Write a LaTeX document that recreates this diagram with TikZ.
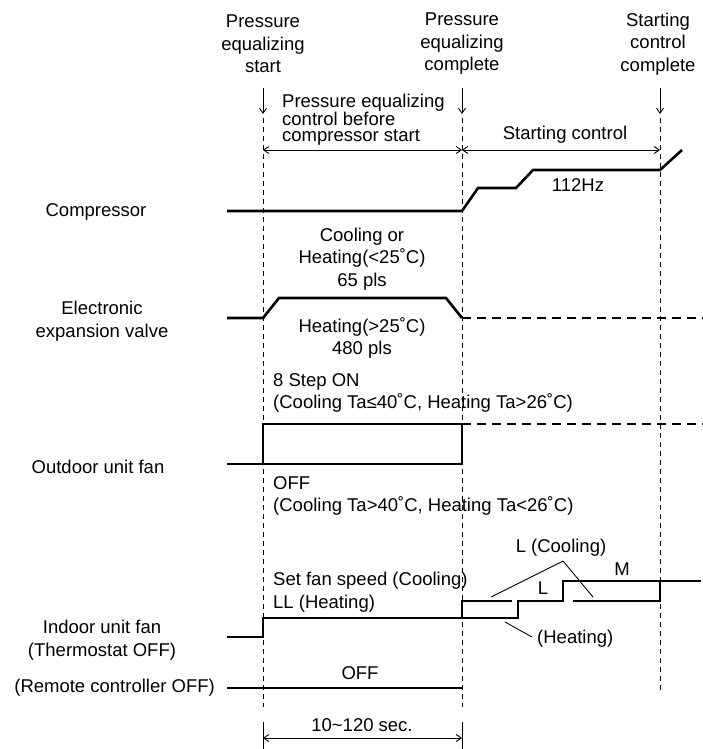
\documentclass[tikz,border=0pt]{standalone}
\usepackage{fontspec}
\setmainfont{Liberation Sans}
\usetikzlibrary{arrows.meta,positioning}

\begin{document}
\begin{tikzpicture}[x=1pt,y=-1pt,>={Straight Barb[length=5pt,width=7pt]},
	font=\fontsize{18.5}{22.5}\selectfont]
	
	% Define line and text styles
	\tikzstyle{signal} = [line width=2.6pt, line join=miter]
	\tikzstyle{later} = [line width=2.6pt, dash pattern=on 9pt off 6pt]
	\tikzstyle{guide} = [line width=1pt, dash pattern=on 5pt off 4pt]
	\tikzstyle{dim} = [line width=0.9pt, <->]
	\tikzstyle{leader} = [line width=0.9pt]
	\tikzstyle{label} = [inner sep=0pt, align=center]
	\tikzstyle{note} = [inner sep=0pt, align=left, anchor=west]
	
	\useasboundingbox (0,0) rectangle (703,749);
	
	% Event labels on top
	\node[label] (eqstart) at (263,44) {Pressure\\equalizing\\start};
	\node[label] (eqdone) at (462,44) {Pressure\\equalizing\\complete};
	\node[label] (ctrldone) at (658,44) {Starting\\control\\complete};
	
	% Time marks: arrow, dashed guide
	\foreach \t/\x/\yend in {ts/263/707, te/462/707, tc/660/693} {
		\coordinate (\t top) at (\x,88);
		\coordinate (\t) at (\x,118);
		\coordinate (\t end) at (\x,\yend);
		\draw[->, line width=0.9pt] (\t top) -- ([yshift=4pt]\t);
		\draw[guide] (\t) -- (\t end);
	}
	
	% Control periods
	\coordinate (p1) at (263,150);
	\coordinate (p2) at (462,150);
	\coordinate (p3) at (660,150);
	\draw[dim] (p1) -- (p2);
	\draw[dim] (p2) -- (p3);
	\node[note, font=\fontsize{18.5}{16}\selectfont] (eqctrl) at (282,120)
		{Pressure equalizing\\control before\\compressor start};
	\node[label] (startctrl) at (565,135) {Starting control};
	
	% Compressor
	\node[label] (comp) at (96,212) {Compressor};
	\draw[signal] (227,211) -- (462,211) -- (478,188) -- (516,188)
		-- (533,170) -- (660,170) -- (682,150);
	\node[label] (hz) at (578,185) {112Hz};
	
	% Electronic expansion valve
	\node[label] (eev) at (102,321) {Electronic\\expansion valve};
	\draw[signal] (227,318) -- (263,318) -- (279,298) -- (446,298) -- (462,318);
	\draw[later] (462,318) -- (703,318);
	\node[label] (eevlow) at (362,259) {Cooling or\\Heating(<25˚C)\\65 pls};
	\node[label] (eevhigh) at (362,338) {Heating(>25˚C)\\480 pls};
	
	% Outdoor unit fan
	\node[label] (odfan) at (98,467) {Outdoor unit fan};
	\draw[signal] (227,464) -- (462,464) -- (462,424) -- (263,424) -- (263,464);
	\draw[later] (462,424) -- (703,424);
	\node[note] (odon) at (273,393) {8 Step ON\\(Cooling Ta≤40˚C, Heating Ta>26˚C)};
	\node[note] (odoff) at (273,496) {OFF\\(Cooling Ta>40˚C, Heating Ta<26˚C)};
	
	% Indoor unit fan
	\node[label] (idfan) at (102,640) {Indoor unit fan\\(Thermostat OFF)};
	\draw[signal] (227,637) -- (263,637) -- (263,618) -- (518,618) -- (518,601)
		-- (563,601) -- (563,581) -- (701,581);
	\draw[signal] (462,618) -- (462,601) -- (512,601);
	\draw[signal] (573,601) -- (660,601) -- (660,581);
	\node[note] (idset) at (273,592) {Set fan speed (Cooling)\\LL (Heating)};
	\node[label] (lcool) at (561,548) {L (Cooling)};
	\node[label] (lstep) at (543,588) {L};
	\node[label] (mstep) at (622,569) {M};
	\node[note] (lheat) at (537,639) {(Heating)};
	\coordinate (lc) at (563,561);
	\draw[leader] (lc) -- (491,597);
	\draw[leader] (lc) -- (593,597);
	\draw[leader] (505,622) -- ([xshift=-5pt,yshift=2pt]lheat.west);
	
	% Remote controller OFF
	\node[label, anchor=east] (remote) at (215,688) {(Remote controller OFF)};
	\draw[signal] (227,688) -- (462,688);
	\node[label] (remoff) at (360,673) {OFF};
	
	% Pressure equalizing time
	\coordinate (w1) at (263,738);
	\coordinate (w2) at (462,738);
	\draw[leader] (263,722) -- (263,749);
	\draw[leader] (462,722) -- (462,749);
	\draw[dim] (w1) -- (w2);
	\node[label] (wtime) at (362,725) {10{\char"7E}120 sec.};
	
\end{tikzpicture}
\end{document}
